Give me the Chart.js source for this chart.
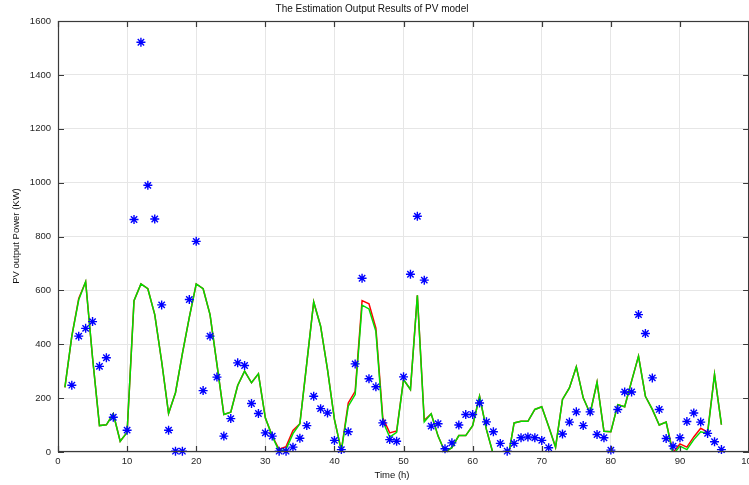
<!DOCTYPE html>
<html>
<head>
<meta charset="utf-8">
<title>PV model estimation output</title>
<script src="https://cdn.jsdelivr.net/npm/chart.js@4.4.1/dist/chart.umd.min.js"></script>
<style>
  html, body { margin: 0; padding: 0; background: #ffffff; overflow: hidden; }
  canvas { display: block; }
</style>
</head>
<body>
<!-- the canvas runs a few pixels past the window so the last x label is cut at the edge -->
<canvas id="pv" width="761" height="485"></canvas>
<script>
// Time axis of the two model curves (hours)
const hours = [1,2,3,4,5,6,7,8,9,10,11,12,13,14,15,16,17,18,19,20,
  21,22,23,24,25,26,27,28,29,30,31,32,33,34,35,36,37,38,39,40,
  41,42,43,44,45,46,47,48,49,50,51,52,53,54,55,56,57,58,59,60,
  61,62,63,64,65,66,67,68,69,70,71,72,73,74,75,76,77,78,79,80,
  81,82,83,84,85,86,87,88,89,90,91,92,93,94,95,96];

// PV model output, first estimate (red)
const estimateRed = [240,430,570,632,350,98,101,142,40,73,
  562,624,606,510,336,143,220,365,500,624,
  606,510,325,139,148,247,300,257,290,127,
  59,10,20,80,105,330,557,467,306,121,
  5,182,225,562,550,460,127,71,78,269,
  232,582,118,142,59,0,16,61,61,98,
  207,83,-10,-60,-40,108,114,114,158,168,
  95,18,195,238,316,201,143,259,77,75,
  176,168,263,356,207,158,100,111,-2,30,
  18,56,88,74,288,102];

// PV model output, second estimate (green)
const estimateGreen = [240,430,565,632,350,98,101,142,40,73,
  562,624,606,510,336,143,220,365,500,624,
  606,510,325,139,148,247,300,257,290,127,
  59,3,10,68,105,330,557,467,306,121,
  5,170,213,545,531,448,115,55,73,269,
  232,582,112,142,59,0,16,61,61,98,
  207,83,-10,-60,-40,108,114,114,158,168,
  95,18,195,238,316,201,143,259,77,75,
  176,168,263,356,207,158,100,111,-10,22,
  9,46,75,69,288,102];

// Measured PV output (blue asterisks)
const measuredHours = [2,3,4,5,6,7,8,10,11,12,13,14,15,16,17,18,19,20,
  21,22,23,24,25,26,27,28,29,30,31,32,33,34,35,36,37,38,39,40,
  41,42,43,44,45,46,47,48,49,50,51,52,53,54,55,56,57,58,59,60,
  61,62,63,64,65,66,67,68,69,70,71,73,74,75,76,77,78,79,80,
  81,82,83,84,85,86,87,88,89,90,91,92,93,94,95,96];
const measured = [248,430,459,484,318,350,129,81,863,1521,990,865,546,81,3,3,566,782,
  228,430,278,59,124,331,321,180,143,71,59,3,3,18,51,98,207,161,145,43,
  9,75,327,645,272,242,108,46,40,279,660,875,638,96,105,12,34,100,139,139,
  182,112,75,32,3,32,53,56,53,43,16,67,111,149,98,149,65,53,7,
  158,223,223,510,440,275,158,50,22,53,113,145,111,69,38,9];

// Axis ranges and tick spacing
const xRange = [0, 100], xStep = 10;
const yRange = [0, 1600], yStep = 200;

const toPoints = (xs, ys) => xs.map((x, i) => ({ x: x, y: ys[i] }));

const FONT = '"Liberation Sans", Arial, Helvetica, sans-serif';
const AXIS_COLOR = '#3a3a3a';
const TEXT_COLOR = '#262626';

// Box around the plot with inward tick marks on all four sides,
// plus the figure title and axis labels
const frame = {
  id: 'frame',
  afterDraw(chart) {
    const { ctx, chartArea: a, scales } = chart;
    const xs = scales.x, ys = scales.y;
    const len = 6;
    ctx.save();
    ctx.strokeStyle = AXIS_COLOR;
    ctx.lineWidth = 1.2;
    ctx.strokeRect(a.left + 0.5, a.top + 0.5, a.right - a.left - 1, a.bottom - a.top - 1);
    ctx.beginPath();
    xs.ticks.forEach(t => {
      const p = Math.round(xs.getPixelForValue(t.value)) + 0.5;
      ctx.moveTo(p, a.bottom); ctx.lineTo(p, a.bottom - len);
      ctx.moveTo(p, a.top); ctx.lineTo(p, a.top + len);
    });
    ys.ticks.forEach(t => {
      const p = Math.round(ys.getPixelForValue(t.value)) + 0.5;
      ctx.moveTo(a.left, p); ctx.lineTo(a.left + len, p);
      ctx.moveTo(a.right, p); ctx.lineTo(a.right - len, p);
    });
    ctx.stroke();

    ctx.fillStyle = '#111111';
    ctx.textAlign = 'center';
    ctx.textBaseline = 'middle';
    ctx.font = '10px ' + FONT;
    ctx.fillText('The Estimation Output Results of PV model', 372, 9);
    ctx.font = '9.5px ' + FONT;
    ctx.fillText('Time (h)', 392, 475);
    ctx.translate(16, 236);
    ctx.rotate(-Math.PI / 2);
    ctx.fillText('PV output Power (KW)', 0, 0);
    ctx.restore();
  }
};

new Chart(document.getElementById('pv'), {
  type: 'line',
  data: {
    datasets: [
      {
        label: 'Measured',
        data: toPoints(measuredHours, measured),
        showLine: false,
        pointStyle: 'star',
        pointRadius: 4.5,
        pointBorderWidth: 1.4,
        pointBorderColor: '#0000ff',
        pointBackgroundColor: '#0000ff',
        clip: false,
        order: 0
      },
      {
        label: 'Estimate 2',
        data: toPoints(hours, estimateGreen),
        borderColor: '#00dd00',
        borderWidth: 1.5,
        pointRadius: 0,
        tension: 0,
        fill: false,
        order: 1
      },
      {
        label: 'Estimate 1',
        data: toPoints(hours, estimateRed),
        borderColor: '#ff0000',
        borderWidth: 1.5,
        pointRadius: 0,
        tension: 0,
        fill: false,
        order: 2
      }
    ]
  },
  options: {
    responsive: false,
    animation: false,
    devicePixelRatio: 1,
    layout: { padding: { top: 21, right: 0, left: 0, bottom: 0 } },
    plugins: {
      legend: { display: false },
      title: { display: false },
      tooltip: { enabled: false }
    },
    scales: {
      x: {
        type: 'linear',
        min: xRange[0],
        max: xRange[1],
        ticks: {
          stepSize: xStep,
          color: TEXT_COLOR,
          font: { family: FONT, size: 9.5 },
          padding: 4,
          maxRotation: 0,
          callback: v => String(v)
        },
        grid: { color: '#e6e6e6', lineWidth: 1, drawTicks: false },
        border: { display: false },
        afterFit(scale) {
          scale.height = 33;
        }
      },
      y: {
        type: 'linear',
        min: yRange[0],
        max: yRange[1],
        ticks: {
          stepSize: yStep,
          color: TEXT_COLOR,
          font: { family: FONT, size: 9.5 },
          padding: 7,
          callback: v => String(v)
        },
        grid: { color: '#e6e6e6', lineWidth: 1, drawTicks: false },
        border: { display: false },
        afterFit(scale) {
          scale.width = 58;
          scale.paddingTop = 0;
          scale.paddingBottom = 0;
        }
      }
    }
  },
  plugins: [frame]
});
</script>
</body>
</html>
